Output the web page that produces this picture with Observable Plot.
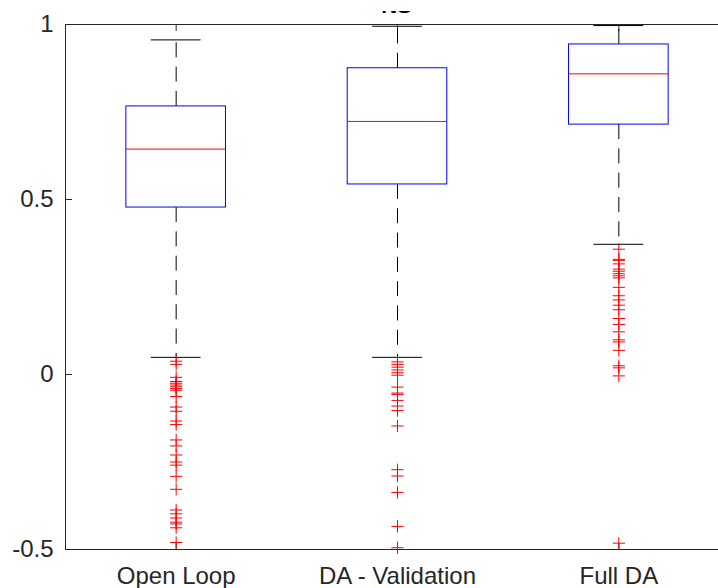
<!DOCTYPE html>
<html>
<head>
<meta charset="utf-8">
<script src="https://cdn.jsdelivr.net/npm/d3@7"></script>
<script src="https://cdn.jsdelivr.net/npm/@observablehq/plot@0.6"></script>
<style>
  html, body { margin: 0; padding: 0; background: #fff; }
  #wrap { position: relative; width: 718px; height: 588px; overflow: hidden; background: #fff;
          font-family: "Liberation Sans", Arial, Helvetica, sans-serif; }
  #titleClip { position: absolute; left: 0; top: 11px; width: 793px; height: 3px; overflow: hidden; }
  #title { position: absolute; left: 0; width: 793px; top: -15.6px; text-align: center;
           font-size: 22px; line-height: 22px; font-weight: bold; color: #000; }
  #chart { position: absolute; left: 0; top: 0; width: 740px; height: 588px; }
  #chart svg { max-width: none !important; width: 740px; height: 588px; display: block; }
</style>
</head>
<body>
<div id="wrap">
  <div id="chart"></div>
  <div id="titleClip"><div id="title"></div></div>
</div>
<script>
// ---- data ----
const titleText = "NS";
const categories = ["Open Loop", "DA - Validation", "Full DA"];
const q1 = [0.477, 0.543, 0.714];
const median = [0.644, 0.723, 0.859];
const q3 = [0.766, 0.875, 0.943];
const whiskerLow = [0.049, 0.049, 0.372];
const whiskerHigh = [0.956, 0.995, 0.997];

const openLoopOutliers = [0.038, 0.029, -0.008, -0.020, -0.025, -0.030, -0.035, -0.040, -0.045,
  -0.063, -0.093, -0.105, -0.133, -0.143, -0.187, -0.204, -0.230, -0.250, -0.259, -0.291,
  -0.328, -0.387, -0.398, -0.410, -0.422, -0.427, -0.438, -0.480];
const daValidationOutliers = [0.036, 0.029, 0.021, 0.013, 0.005, -0.002, -0.036, -0.053, -0.057,
  -0.074, -0.090, -0.103, -0.147, -0.272, -0.290, -0.337, -0.434, -0.495];
const fullDAOutliers = [0.358, 0.329, 0.326, 0.316, 0.301, 0.295, 0.288, 0.282, 0.276, 0.249,
  0.225, 0.213, 0.198, 0.185, 0.160, 0.143, 0.122, 0.099, 0.093, 0.069, 0.025, 0.019, -0.004, -0.482];

const yTicks = [-0.5, 0, 0.5, 1];
const yTickLabels = ["-0.5", "0", "0.5", "1"];

// ---- derived tables ----
const xpos = categories.map((_, i) => i + 1);
const boxes = categories.map((c, i) => ({
  x: i + 1, q1: q1[i], med: median[i], q3: q3[i], lo: whiskerLow[i], hi: whiskerHigh[i]
}));
const outlierPts = [openLoopOutliers, daValidationOutliers, fullDAOutliers]
  .flatMap((arr, i) => arr.map(v => ({x: i + 1, y: v})));
const halfBox = 0.225, halfCap = 0.1125;
const dash = "15,9.3";

document.getElementById("title").textContent = titleText;

const chart = Plot.plot({
  width: 740,
  height: 588,
  marginLeft: 65,
  marginRight: 11,
  marginTop: 24,
  marginBottom: 39,
  x: {type: "linear", domain: [0.5, 3.5]},
  y: {domain: [-0.5, 1]},
  style: {fontFamily: "'Liberation Sans', Arial, Helvetica, sans-serif", background: "#fff", color: "#262626", maxWidth: "none"},
  marks: [
    Plot.frame({stroke: "#262626", strokeWidth: 1}),
    // y labels
    Plot.axisY(yTicks, {tickSize: 0, tickPadding: 12, fontSize: 24, label: null,
      tickFormat: d => yTickLabels[yTicks.indexOf(d)], fill: "#262626"}),
    // inward y ticks
    Plot.axisY(yTicks, {tickSize: 7, dx: 7, label: null, tickFormat: () => "", stroke: "#262626"}),
    // x labels
    Plot.axisX(xpos, {tickSize: 0, tickPadding: 17, fontSize: 24, label: null,
      tickFormat: d => categories[d - 1], fill: "#262626"}),
    // inward x ticks, bottom and top
    Plot.axisX(xpos, {anchor: "bottom", tickSize: 6, dy: -6, label: null, tickFormat: () => "", stroke: "#262626"}),
    Plot.axisX(xpos, {anchor: "top", tickSize: 6, dy: 6, label: null, tickFormat: () => "", stroke: "#262626"}),
    // whiskers
    Plot.ruleX(boxes, {x: "x", y1: "q3", y2: "hi", stroke: "#000", strokeDasharray: dash}),
    Plot.ruleX(boxes, {x: "x", y1: "q1", y2: "lo", stroke: "#000", strokeDasharray: dash}),
    // caps
    Plot.ruleY(boxes, {y: "hi", x1: d => d.x - halfCap, x2: d => d.x + halfCap, stroke: "#000"}),
    Plot.ruleY(boxes, {y: "lo", x1: d => d.x - halfCap, x2: d => d.x + halfCap, stroke: "#000"}),
    // boxes
    Plot.rect(boxes, {x1: d => d.x - halfBox, x2: d => d.x + halfBox, y1: "q1", y2: "q3",
      stroke: "#0000ff", fill: "none", strokeWidth: 1}),
    // medians
    Plot.ruleY(boxes, {y: "med", x1: d => d.x - halfBox, x2: d => d.x + halfBox, stroke: "#ff0000"}),
    // outliers
    Plot.dot(outlierPts, {x: "x", y: "y", symbol: "plus", r: 4, stroke: "#ff0000", strokeWidth: 1})
  ]
});
document.getElementById("chart").appendChild(chart);
</script>
</body>
</html>
